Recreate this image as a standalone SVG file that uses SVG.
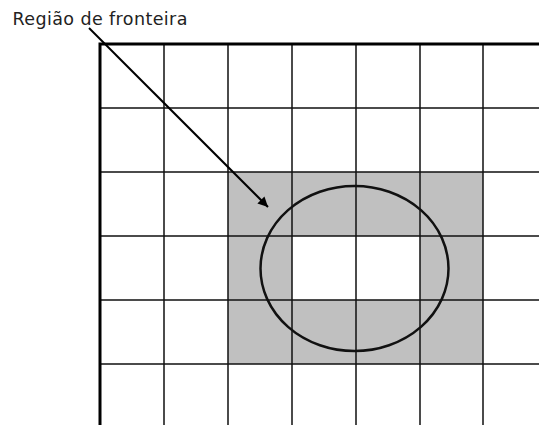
<svg xmlns="http://www.w3.org/2000/svg" width="539" height="425" viewBox="0 0 539 425">
<defs>
<marker id="ah" viewBox="0 0 10 10" refX="10" refY="5" markerWidth="5" markerHeight="5" orient="auto" markerUnits="strokeWidth"><path d="M0,0 L10,5 L0,10 z" fill="#000"/></marker>
<style>
.g{stroke:#111;stroke-width:1.5;fill:none}
.b{stroke:#000;stroke-width:3;fill:none}
.s{fill:#c0c0c0;stroke:none}
.lbl{font-family:"DejaVu Sans",Verdana,sans-serif;font-size:17.5px;letter-spacing:0.4px;fill:#222}
</style>
</defs>
<rect width="539" height="425" fill="#fff"/>
<g id="shade">
<path class="s" d="M228,172H483V364H228Z M292,236V300H420V236Z" fill-rule="evenodd"/>
</g>
<g id="grid">
<path class="g" d="M164,44V425 M228,44V425 M292,44V425 M356,44V425 M420,44V425 M483,44V425 M100,108H539 M100,172H539 M100,236H539 M100,300H539 M100,364H539"/>
<path class="b" d="M100,425V44H539"/>
</g>
<g id="ellipse">
<ellipse cx="354.5" cy="268.5" rx="94" ry="82.5" fill="none" stroke="#111" stroke-width="2.5"/>
</g>
<g id="label">
<text class="lbl" x="12.5" y="25">Região de fronteira</text>
</g>
<g id="connectors">
<line x1="89" y1="28" x2="268" y2="207" stroke="#000" stroke-width="2" marker-end="url(#ah)"/>
</g>
</svg>
